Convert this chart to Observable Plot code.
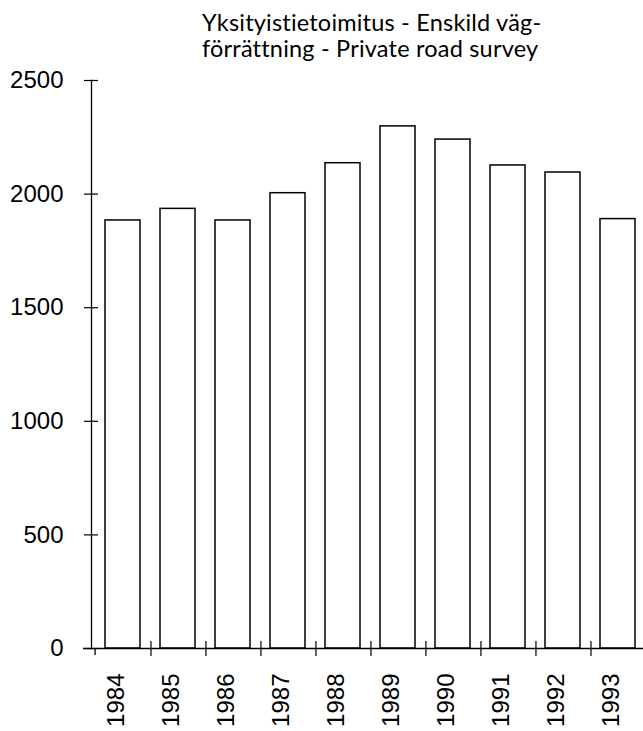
<!DOCTYPE html>
<html>
<head>
<meta charset="utf-8">
<script src="https://cdn.jsdelivr.net/npm/d3@7"></script>
<script src="https://cdn.jsdelivr.net/npm/@observablehq/plot@0.6"></script>
<style>
  html, body { margin: 0; padding: 0; background: #fff; }
  #wrap { width: 643px; height: 731px; position: relative; overflow: hidden; }
  #title { height: 62px; box-sizing: border-box; padding: 9px 0 0 202px;
    font-family: Lato, "Open Sans", sans-serif; font-size: 23.5px; line-height: 26px; letter-spacing: 0.2px; color: #000; white-space: nowrap; }
  svg { display: block; overflow: visible; }
</style>
</head>
<body>
<div id="wrap">
  <div id="title">Yksityistietoimitus - Enskild väg-<br>förrättning - Private road survey</div>
  <div id="chart"></div>
</div>
<script>
const years = ["1984","1985","1986","1987","1988","1989","1990","1991","1992","1993"];
const values = [1884, 1935, 1884, 2004, 2136, 2298, 2240, 2126, 2095, 1890];
const yTicks = [0, 500, 1000, 1500, 2000, 2500];

const data = years.map((y, i) => ({year: y, value: values[i]}));
const H = 669;
const font = "'Liberation Sans', Arial, Helvetica, sans-serif";

const chart = Plot.plot({
  width: 643,
  height: H,
  marginLeft: 91,
  marginRight: 0,
  marginTop: 18,
  marginBottom: 83,
  style: {fontFamily: font, fontSize: "24px", color: "#000", background: "white"},
  x: {domain: years, range: [91, 650], paddingInner: 0.36, paddingOuter: 0.18, align: 0.5, label: null},
  y: {domain: [0, 2500], label: null},
  marks: [
    Plot.barY(data, {x: "year", y: "value", fill: "white", stroke: "black", strokeWidth: 1.5}),
    // x axis line extends slightly left of the y axis
    Plot.ruleY([0], {stroke: "black", strokeWidth: 1.3, insetLeft: -8}),
    // y axis line
    Plot.frame({anchor: "left", stroke: "black", strokeWidth: 1.3}),
    // y ticks crossing the axis
    Plot.axisY({ticks: yTicks, tickSize: 14, dx: 7, tickFormat: () => "", strokeWidth: 1.2, label: null}),
    // y labels
    Plot.axisY({ticks: yTicks, tickSize: 0, tickPadding: 28, fontSize: 24, tickFormat: d => String(d), label: null}),
    // x ticks at band boundaries
    Plot.axisX({tickSize: 15, dx: 27.95, dy: -7, tickFormat: () => "", strokeWidth: 1.2, label: null}),
    Plot.axisX({ticks: ["1984"], tickSize: 7, dx: -27.95, tickFormat: () => "", strokeWidth: 1.3, label: null}),
    // x labels rotated
    Plot.axisX({tickSize: 0, tickPadding: 25, tickRotate: -90, fontSize: 24, dx: -7, label: null})
  ]
});
document.getElementById("chart").appendChild(chart);
</script>
</body>
</html>
